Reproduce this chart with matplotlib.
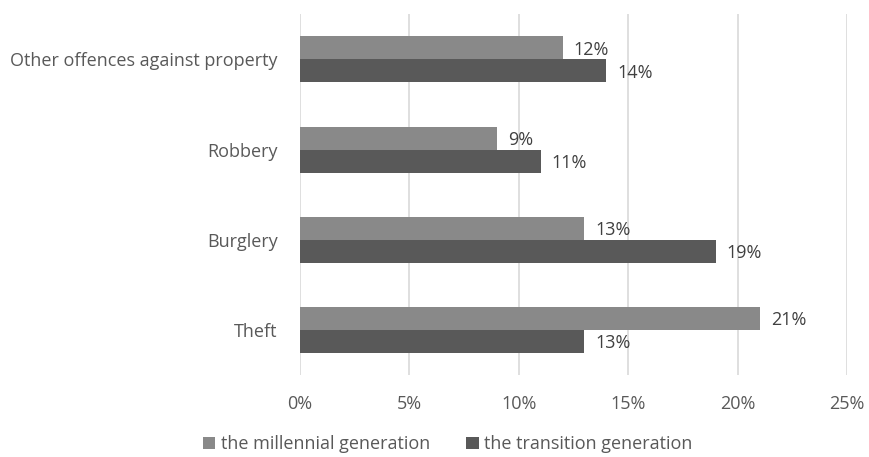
import matplotlib.pyplot as plt
from matplotlib.ticker import FuncFormatter
import numpy as np

plt.rcParams['font.family'] = ['Open Sans', 'DejaVu Sans']

categories = ["Theft", "Burglery", "Robbery", "Other offences against property"]
millennial = [21, 13, 9, 12]
transition = [13, 19, 11, 14]
series_names = ["the millennial generation", "the transition generation"]

c_mill = '#898989'
c_trans = '#595959'
txt = '#595959'
fs = 13

fig = plt.figure(figsize=(8.69, 4.57), dpi=100)
ax = fig.add_axes([0.345, 0.179, 0.63, 0.79])

y = np.arange(len(categories))
h = 0.255
b1 = ax.barh(y + h / 2, millennial, height=h, color=c_mill, label=series_names[0])
b2 = ax.barh(y - h / 2, transition, height=h, color=c_trans, label=series_names[1])

for bars, vals in [(b1, millennial), (b2, transition)]:
    for bar, v in zip(bars, vals):
        ax.text(v + 0.5, bar.get_y() + bar.get_height() / 2 - 0.02, f"{v}%",
                va='center', ha='left', fontsize=fs, color='#404040')

ax.set_xlim(0, 25)
ax.set_ylim(-0.5, 3.5)
ax.set_xticks(range(0, 26, 5))
ax.xaxis.set_major_formatter(FuncFormatter(lambda v, p: f"{v:.0f}%"))
ax.set_yticks(y)
ax.set_yticklabels(categories)
ax.tick_params(length=0, labelsize=fs, colors=txt)
ax.tick_params(axis='x', pad=14)
ax.tick_params(axis='y', pad=16)
ax.grid(axis='x', color='#d9d9d9', linewidth=1.2)
ax.set_axisbelow(True)
for s in ax.spines.values():
    s.set_visible(False)

fig.legend(handles=[b1, b2], loc='center', bbox_to_anchor=(0.515, 0.028), ncol=2,
           frameon=False, fontsize=fs, handlelength=0.7, handleheight=0.7,
           handletextpad=0.3, columnspacing=2.0, labelcolor=txt)

fig.savefig('out.png', dpi=100)
